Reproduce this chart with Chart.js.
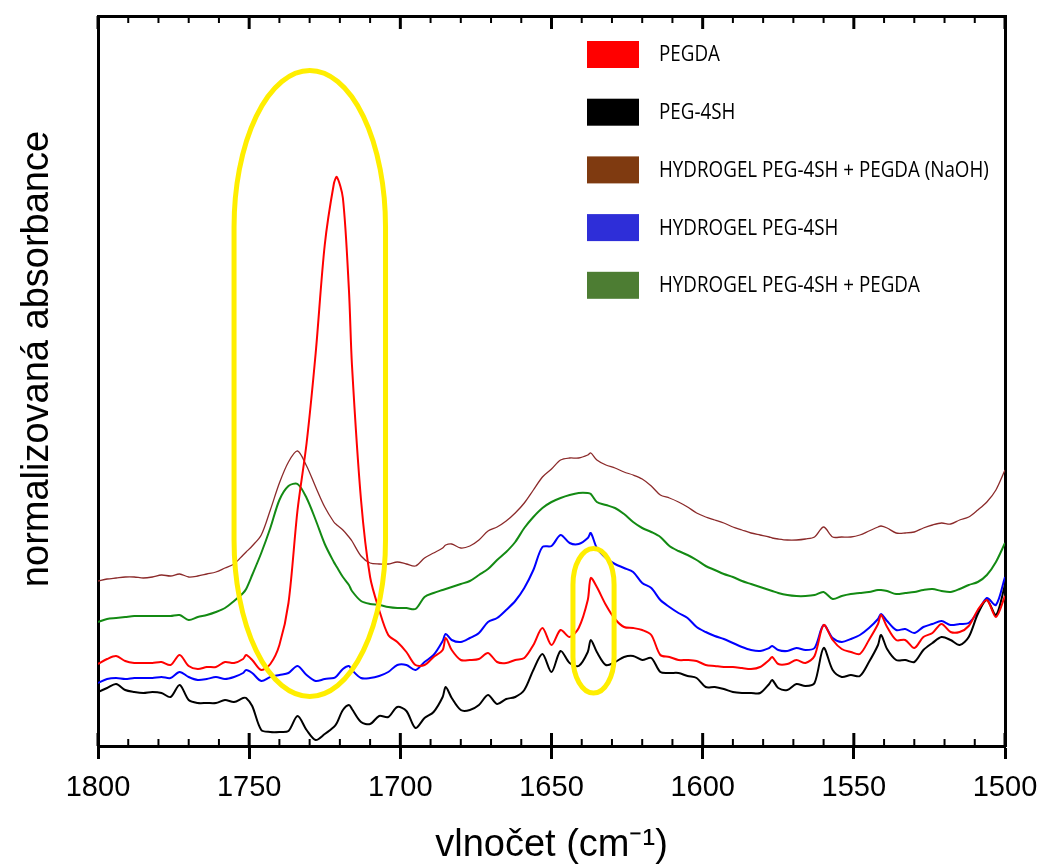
<!DOCTYPE html>
<html>
<head>
<meta charset="utf-8">
<script src="https://cdn.jsdelivr.net/npm/chart.js@4.4.0/dist/chart.umd.min.js"></script>
<style>
  html, body { margin: 0; padding: 0; background: #fff; }
  #wrap { width: 1042px; height: 865px; }
</style>
</head>
<body>
<div id="wrap"><canvas id="chart"></canvas></div>
<script>
// wavenumber grid (cm-1), shared by all spectra
const wavenumbers = [
  1800,1797,1794,1791,1788,1785,1782,1779,1776,1773,
  1770,1767,1764,1761,1758,1755,1752,1751,1749,1746,
  1743,1740,1737,1734,1731,1728,1725,1722,1721,1719,1717,
  1716,1713,1710,1707,1704,1701,1698,1695,1692,1689,
  1686,1685,1683,1680,1677,1674,1671,1668,1665,1662,
  1659,1656,1653,1650,1647,1644,1641,1638,1637,1635,
  1632,1629,1626,1623,1620,1617,1614,1611,1608,1605,
  1602,1599,1596,1593,1590,1587,1584,1581,1578,1577,
  1575,1572,1569,1566,1563,1560,1557,1554,1551,1548,
  1545,1542,1541,1539,1536,1533,1530,1527,1524,1521,
  1518,1515,1512,1509,1506,1503,1500
];

// normalized absorbance (spectra stacked with offsets)
const pegda = [
  0.82,0.87,0.90,0.85,0.83,0.83,0.83,0.84,0.81,0.91,
  0.80,0.77,0.79,0.79,0.84,0.83,0.87,0.91,0.86,0.76,
  0.82,1.01,1.43,2.36,3.03,3.93,5.01,5.62,5.69,5.48,4.56,
  3.81,2.46,1.69,1.36,1.11,1.04,0.94,0.81,0.81,0.89,
  0.96,1.08,0.96,0.86,0.86,0.87,0.93,0.84,0.83,0.86,
  0.88,1.01,1.18,1.01,1.16,1.09,1.18,1.46,1.68,1.59,
  1.41,1.27,1.19,1.18,1.16,1.11,0.91,0.89,0.86,0.86,
  0.85,0.81,0.80,0.79,0.79,0.78,0.77,0.79,0.86,0.89,
  0.82,0.82,0.86,0.83,0.90,1.21,1.06,0.97,0.94,0.92,
  1.06,1.22,1.31,1.19,1.06,1.06,0.98,1.09,1.13,1.22,
  1.14,1.14,1.20,1.36,1.46,1.29,1.50
];
const peg4sh = [
  0.54,0.58,0.62,0.56,0.54,0.53,0.54,0.53,0.49,0.61,
  0.46,0.43,0.43,0.43,0.46,0.44,0.48,0.48,0.40,0.16,
  0.14,0.14,0.15,0.30,0.16,0.06,0.12,0.19,0.23,0.36,0.41,
  0.37,0.24,0.22,0.30,0.29,0.39,0.35,0.18,0.28,0.34,
  0.49,0.59,0.48,0.36,0.36,0.41,0.51,0.42,0.47,0.49,
  0.56,0.76,0.92,0.74,0.95,0.83,0.80,0.94,1.06,0.94,
  0.81,0.84,0.89,0.90,0.86,0.88,0.74,0.73,0.73,0.70,
  0.68,0.59,0.59,0.57,0.54,0.53,0.53,0.53,0.62,0.66,
  0.58,0.56,0.62,0.60,0.63,0.98,0.76,0.69,0.71,0.70,
  0.84,1.01,1.11,0.97,0.86,0.86,0.84,0.96,1.03,1.09,
  1.06,1.01,1.09,1.32,1.46,1.31,1.61
];
const hydrogelNaoh = [
  1.65,1.67,1.68,1.69,1.69,1.68,1.69,1.71,1.70,1.72,
  1.69,1.70,1.72,1.74,1.78,1.82,1.91,1.94,2.00,2.11,
  2.36,2.63,2.84,2.95,2.80,2.59,2.39,2.24,2.21,2.16,2.09,
  2.05,1.90,1.83,1.82,1.82,1.84,1.82,1.80,1.88,1.93,
  1.98,2.01,2.02,1.98,2.00,2.06,2.15,2.19,2.25,2.33,
  2.43,2.56,2.69,2.77,2.86,2.88,2.88,2.91,2.93,2.86,
  2.81,2.78,2.74,2.71,2.67,2.60,2.51,2.48,2.44,2.39,
  2.33,2.29,2.26,2.23,2.19,2.16,2.13,2.11,2.09,2.08,
  2.07,2.06,2.06,2.07,2.09,2.19,2.09,2.09,2.09,2.11,
  2.15,2.19,2.20,2.18,2.13,2.13,2.14,2.18,2.21,2.23,
  2.22,2.26,2.29,2.36,2.44,2.56,2.76
];
const hydrogel = [
  0.63,0.67,0.68,0.67,0.68,0.68,0.68,0.69,0.68,0.74,
  0.69,0.66,0.67,0.69,0.67,0.69,0.73,0.76,0.73,0.65,
  0.69,0.71,0.73,0.80,0.71,0.65,0.67,0.68,0.70,0.77,0.80,
  0.76,0.68,0.68,0.70,0.74,0.81,0.81,0.76,0.84,0.91,
  1.05,1.12,1.06,1.04,1.08,1.13,1.24,1.28,1.36,1.45,
  1.58,1.76,1.99,2.00,2.11,2.03,2.02,2.08,2.13,1.98,
  1.88,1.82,1.78,1.74,1.63,1.58,1.46,1.39,1.33,1.28,
  1.19,1.14,1.10,1.07,1.03,0.99,0.96,0.95,0.98,1.00,
  0.96,0.95,0.98,0.96,0.98,1.21,1.08,1.04,1.07,1.11,
  1.18,1.27,1.32,1.25,1.16,1.17,1.13,1.19,1.22,1.25,
  1.21,1.22,1.23,1.34,1.48,1.41,1.69
];
const hydrogelPegda = [
  1.24,1.27,1.28,1.29,1.30,1.30,1.30,1.30,1.30,1.31,
  1.26,1.29,1.31,1.34,1.38,1.45,1.53,1.57,1.71,1.93,
  2.18,2.46,2.60,2.62,2.48,2.26,2.02,1.84,1.79,1.69,1.61,
  1.55,1.45,1.42,1.41,1.39,1.38,1.38,1.37,1.49,1.53,
  1.56,1.57,1.59,1.62,1.65,1.71,1.77,1.86,1.94,2.04,
  2.18,2.29,2.38,2.44,2.48,2.51,2.53,2.53,2.52,2.44,
  2.41,2.38,2.32,2.24,2.18,2.14,2.09,2.00,1.95,1.91,
  1.86,1.80,1.76,1.72,1.69,1.65,1.62,1.59,1.56,1.55,
  1.53,1.51,1.50,1.50,1.51,1.54,1.47,1.50,1.52,1.53,
  1.54,1.56,1.56,1.55,1.52,1.53,1.54,1.56,1.57,1.55,
  1.54,1.57,1.61,1.64,1.71,1.84,2.03
];

const seriesLabels = [
  "PEGDA",
  "PEG-4SH",
  "HYDROGEL PEG-4SH + PEGDA (NaOH)",
  "HYDROGEL PEG-4SH",
  "HYDROGEL PEG-4SH + PEGDA"
];
const xTickValues = [1800, 1750, 1700, 1650, 1600, 1550, 1500];
const xMinorStep = 10;
const yTitle = "normalizovaná absorbance";

// highlighted bands: wavenumber span and absorbance span
const highlightWn = [[1755.0, 1704.9], [1642.9, 1629.3]];
const highlightAbs = [[6.755, 0.495], [1.975, 0.53]];

const FONT = '"Liberation Sans", Arial, sans-serif';

const series = [pegda, peg4sh, hydrogelNaoh, hydrogel, hydrogelPegda];
const lineColors = ["#ff0000", "#000000", "#8b2a2a", "#0000ff", "#138a13"];
const boxColors = ["#ff0000", "#000000", "#7f3a10", "#2e2ed8", "#4d7d33"];
const lineWidths = [2, 2, 1.3, 2, 2];

const datasets = series.map((vals, i) => ({
  label: seriesLabels[i],
  data: wavenumbers.map((w, k) => ({ x: w, y: vals[k] })),
  borderColor: lineColors[i],
  legendColor: boxColors[i],
  borderWidth: lineWidths[i],
  pointRadius: 0,
  tension: 0.3,
  fill: false
}));

const extras = {
  id: "extras",
  afterDatasetsDraw(chart) {
    const { ctx } = chart;
    const xs = chart.scales.x, ys = chart.scales.y;
    ctx.save();
    ctx.strokeStyle = "#ffee00";
    ctx.lineWidth = 5;
    highlightWn.forEach((wn, i) => {
      const x1 = xs.getPixelForValue(wn[0]), x2 = xs.getPixelForValue(wn[1]);
      const y1 = ys.getPixelForValue(highlightAbs[i][0]), y2 = ys.getPixelForValue(highlightAbs[i][1]);
      const cx = (x1 + x2) / 2, rx = Math.abs(x2 - x1) / 2;
      const top = Math.min(y1, y2), bot = Math.max(y1, y2);
      const cap = (bot - top) * 0.25;
      ctx.beginPath();
      ctx.ellipse(cx, top + cap, rx, cap, 0, Math.PI, 2 * Math.PI);
      ctx.lineTo(cx + rx, bot - cap);
      ctx.ellipse(cx, bot - cap, rx, cap, 0, 0, Math.PI);
      ctx.closePath();
      ctx.stroke();
    });
    ctx.restore();
  },
  afterDraw(chart) {
    const { ctx, chartArea } = chart;
    const xs = chart.scales.x;
    const lo = Math.min(...xTickValues), hi = Math.max(...xTickValues);
    ctx.save();
    // inner ticks (major + minor) on bottom and top axes
    ctx.strokeStyle = "#000000";
    ctx.setLineDash([]);
    for (let v = lo; v <= hi; v += xMinorStep) {
      const major = xTickValues.includes(v);
      const px = xs.getPixelForValue(v);
      const len = major ? 13 : 7;
      ctx.lineWidth = major ? 3 : 2;
      ctx.beginPath();
      ctx.moveTo(px, chartArea.bottom);
      ctx.lineTo(px, chartArea.bottom - len);
      ctx.stroke();
      ctx.beginPath();
      ctx.moveTo(px, chartArea.top);
      ctx.lineTo(px, chartArea.top + len);
      ctx.stroke();
    }
    // y axis title
    ctx.save();
    ctx.translate(38, 359);
    ctx.rotate(-Math.PI / 2);
    ctx.font = "38px " + FONT;
    ctx.fillStyle = "#000";
    ctx.textAlign = "center";
    ctx.textBaseline = "middle";
    ctx.fillText(yTitle, 0, 0);
    ctx.restore();
    // legend
    ctx.font = '21px "Open Sans", sans-serif';
    ctx.textBaseline = "middle";
    ctx.textAlign = "left";
    chart.data.datasets.forEach((ds, i) => {
      const cy = 54.5 + i * 57.7;
      ctx.fillStyle = ds.legendColor;
      ctx.fillRect(587, cy - 13.5, 52, 27);
      ctx.fillStyle = "#000";
      const w = ctx.measureText(ds.label).width;
      ctx.fillText(ds.label, 659, cy + 1, w * 0.895);
    });
    ctx.restore();
  }
};

new Chart(document.getElementById("chart"), {
  type: "line",
  data: { datasets },
  options: {
    responsive: true,
    maintainAspectRatio: false,
    animation: false,
    layout: { padding: 0 },
    plugins: { legend: { display: false }, tooltip: { enabled: false } },
    scales: {
      x: {
        type: "linear",
        position: "bottom",
        min: 1500,
        max: 1800,
        reverse: true,
        afterBuildTicks: (s) => { s.ticks = xTickValues.map((v) => ({ value: v })); },
        afterFit: (s) => { s.height = 119; },
        ticks: {
          font: { family: FONT, size: 29, lineHeight: 1.7 },
          color: "#000",
          padding: 4,
          maxRotation: 0,
          autoSkip: false,
          callback: (v) => String(v)
        },
        grid: { drawOnChartArea: false, drawTicks: true, tickLength: 13, tickWidth: 3, tickColor: "#000" },
        border: { display: true, color: "#000", width: 3 },
        title: {
          display: true,
          text: "vlnočet (cm⁻¹)",
          color: "#000",
          font: { family: FONT, size: 38, lineHeight: 1.0 },
          padding: { top: 12, bottom: 0 }
        }
      },
      x2: {
        type: "linear",
        position: "top",
        min: 1500,
        max: 1800,
        reverse: true,
        afterFit: (s) => { s.height = 16; },
        ticks: { display: false },
        grid: { display: false, drawTicks: false },
        border: { display: true, color: "#000", width: 3 }
      },
      y: {
        type: "linear",
        position: "left",
        min: 0,
        max: 7.3,
        afterFit: (s) => { s.width = 98; },
        ticks: { display: false },
        grid: { display: false, drawTicks: false },
        border: { display: true, color: "#000", width: 3 }
      },
      y2: {
        type: "linear",
        position: "right",
        min: 0,
        max: 7.3,
        afterFit: (s) => { s.width = 37; },
        ticks: { display: false },
        grid: { display: false, drawTicks: false },
        border: { display: true, color: "#000", width: 3 }
      }
    }
  },
  plugins: [extras]
});
</script>
</body>
</html>
